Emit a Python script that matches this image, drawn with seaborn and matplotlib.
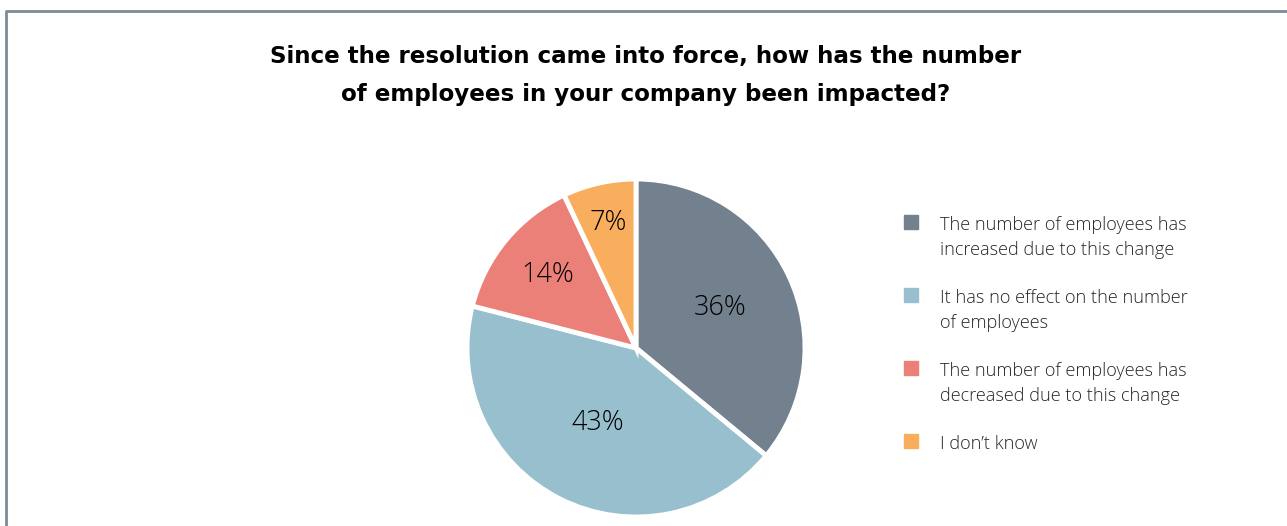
import matplotlib
matplotlib.use("Agg")
import matplotlib.pyplot as plt
from matplotlib.lines import Line2D
from matplotlib.patches import Rectangle
import numpy as np
import seaborn as sns

# Data
answers = [
    "The number of employees has\nincreased due to this change",
    "It has no effect on the number\nof employees",
    "The number of employees has\ndecreased due to this change",
    "I don\u2019t know",
]
shares = [36, 43, 14, 7]
label_dist = [0.55, 0.50, 0.68, 0.76]   # how far from centre each % sits
colors = ["#73818F", "#98BFCE", "#EB8078", "#F8AE5D"]

title = ("Since the resolution came into force, how has the number\n"
         "of employees in your company been impacted?")

sns.set_theme(style="white")
plt.rcParams["font.family"] = ["Open Sans", "DejaVu Sans"]

W, H = 1287, 526
fig = plt.figure(figsize=(W / 100, H / 100), dpi=100)

# pie axes: centre (636, 348) px, radius 169 px
cx, cy, r = 636, 348, 169
pad = 1.03
ax = fig.add_axes([(cx - r * pad) / W, (H - cy - r * pad) / H,
                   2 * r * pad / W, 2 * r * pad / H])
wedges, _, autotexts = ax.pie(
    shares, colors=sns.color_palette(colors), startangle=90, counterclock=False,
    autopct="%d%%", pctdistance=0.55,
    wedgeprops=dict(edgecolor="white", linewidth=3.5),
    textprops=dict(fontsize=19.5, color="black", fontweight="light"),
)
# put each percentage at its own distance along the wedge bisector
for w, t, d in zip(wedges, autotexts, label_dist):
    ang = np.deg2rad((w.theta1 + w.theta2) / 2)
    t.set_position((d * np.cos(ang), d * np.sin(ang)))
ax.set_xlim(-pad, pad)
ax.set_ylim(-pad, pad)
ax.set_aspect("equal")
ax.axis("off")

# title
fig.text(646 / W, 1 - 75.5 / H, title, ha="center", va="center",
         fontsize=16.6, fontweight="bold", family="DejaVu Sans",
         linespacing=1.82, color="black")

# legend drawn by hand: square aligned with first text line
ys = [222, 295, 368, 441]
for lab, col, y in zip(answers, colors, ys):
    fig.patches.append(Rectangle((904 / W, 1 - (y + 7) / H), 14 / W, 14 / H,
                                 transform=fig.transFigure, color=col))
    fig.text(940 / W, 1 - (y - 6) / H, lab, ha="left", va="top",
             fontsize=13.1, fontweight="light", color="#262626",
             linespacing=1.5)

# frame line (top and left only are visible)
fig.add_artist(Line2D([5.5 / W, 5.5 / W, 1.0], [0, 1 - 11 / H, 1 - 11 / H],
                      transform=fig.transFigure, color="#7e8b99", linewidth=2))

fig.savefig("out.png", dpi=100, facecolor="white")
